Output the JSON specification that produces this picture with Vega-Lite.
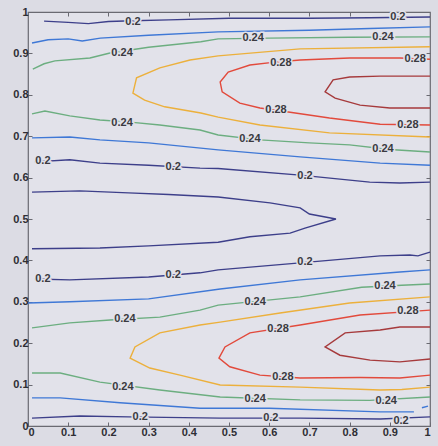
{
  "$schema": "https://vega.github.io/schema/vega-lite/v6.json",
  "autosize": {"type": "none"},
  "width": 402,
  "height": 414,
  "padding": {"left": 28, "top": 12, "right": 8, "bottom": 20},
  "background": "#dcdce4",
  "config": {
    "view": {"fill": "#e2e2ea", "stroke": "#6a6a72", "strokeWidth": 1.2},
    "axis": {
      "grid": false,
      "domain": false,
      "ticks": true,
      "tickSize": -4,
      "tickColor": "#6a6a72",
      "labelFont": "Liberation Sans",
      "labelFontWeight": "bold",
      "labelFontSize": 11,
      "labelColor": "#2e2e34",
      "format": "~g",
      "title": null
    }
  },
  "datasets": {
    "lines": [
      {"id": "A", "lvl": "0.2", "o": 1, "x": 0.04, "y": 0.978},
      {"id": "A", "lvl": "0.2", "o": 2, "x": 0.1, "y": 0.975},
      {"id": "A", "lvl": "0.2", "o": 3, "x": 0.15, "y": 0.972},
      {"id": "A", "lvl": "0.2", "o": 4, "x": 0.2, "y": 0.977},
      {"id": "A", "lvl": "0.2", "o": 5, "x": 0.26, "y": 0.979},
      {"id": "A", "lvl": "0.2", "o": 6, "x": 0.35, "y": 0.981},
      {"id": "A", "lvl": "0.2", "o": 7, "x": 0.5, "y": 0.985},
      {"id": "A", "lvl": "0.2", "o": 8, "x": 0.7, "y": 0.985},
      {"id": "A", "lvl": "0.2", "o": 9, "x": 0.85, "y": 0.986},
      {"id": "A", "lvl": "0.2", "o": 10, "x": 1.0, "y": 0.988},

      {"id": "B", "lvl": "0.22", "o": 1, "x": 0.01, "y": 0.925},
      {"id": "B", "lvl": "0.22", "o": 2, "x": 0.05, "y": 0.933},
      {"id": "B", "lvl": "0.22", "o": 3, "x": 0.1, "y": 0.935},
      {"id": "B", "lvl": "0.22", "o": 4, "x": 0.135, "y": 0.93},
      {"id": "B", "lvl": "0.22", "o": 5, "x": 0.18, "y": 0.937},
      {"id": "B", "lvl": "0.22", "o": 6, "x": 0.3, "y": 0.944},
      {"id": "B", "lvl": "0.22", "o": 7, "x": 0.473, "y": 0.952},
      {"id": "B", "lvl": "0.22", "o": 8, "x": 0.7, "y": 0.956},
      {"id": "B", "lvl": "0.22", "o": 9, "x": 0.85, "y": 0.96},
      {"id": "B", "lvl": "0.22", "o": 10, "x": 1.0, "y": 0.964},

      {"id": "C", "lvl": "0.24", "o": 1, "x": 0.012, "y": 0.862},
      {"id": "C", "lvl": "0.24", "o": 2, "x": 0.04, "y": 0.875},
      {"id": "C", "lvl": "0.24", "o": 3, "x": 0.067, "y": 0.882},
      {"id": "C", "lvl": "0.24", "o": 4, "x": 0.154, "y": 0.889},
      {"id": "C", "lvl": "0.24", "o": 5, "x": 0.204, "y": 0.901},
      {"id": "C", "lvl": "0.24", "o": 6, "x": 0.3, "y": 0.915},
      {"id": "C", "lvl": "0.24", "o": 7, "x": 0.43, "y": 0.928},
      {"id": "C", "lvl": "0.24", "o": 8, "x": 0.473, "y": 0.935},
      {"id": "C", "lvl": "0.24", "o": 9, "x": 0.6, "y": 0.937},
      {"id": "C", "lvl": "0.24", "o": 10, "x": 0.8, "y": 0.939},
      {"id": "C", "lvl": "0.24", "o": 11, "x": 1.0, "y": 0.94},

      {"id": "D", "lvl": "0.26", "o": 1, "x": 1.0, "y": 0.916},
      {"id": "D", "lvl": "0.26", "o": 2, "x": 0.677, "y": 0.911},
      {"id": "D", "lvl": "0.26", "o": 3, "x": 0.473, "y": 0.894},
      {"id": "D", "lvl": "0.26", "o": 4, "x": 0.403, "y": 0.884},
      {"id": "D", "lvl": "0.26", "o": 5, "x": 0.328, "y": 0.865},
      {"id": "D", "lvl": "0.26", "o": 6, "x": 0.27, "y": 0.841},
      {"id": "D", "lvl": "0.26", "o": 7, "x": 0.261, "y": 0.804},
      {"id": "D", "lvl": "0.26", "o": 8, "x": 0.29, "y": 0.787},
      {"id": "D", "lvl": "0.26", "o": 9, "x": 0.34, "y": 0.771},
      {"id": "D", "lvl": "0.26", "o": 10, "x": 0.43, "y": 0.756},
      {"id": "D", "lvl": "0.26", "o": 11, "x": 0.473, "y": 0.746},
      {"id": "D", "lvl": "0.26", "o": 12, "x": 0.577, "y": 0.727},
      {"id": "D", "lvl": "0.26", "o": 13, "x": 0.75, "y": 0.708},
      {"id": "D", "lvl": "0.26", "o": 14, "x": 1.0, "y": 0.698},

      {"id": "E", "lvl": "0.28", "o": 1, "x": 1.0, "y": 0.886},
      {"id": "E", "lvl": "0.28", "o": 2, "x": 0.925, "y": 0.889},
      {"id": "E", "lvl": "0.28", "o": 3, "x": 0.8, "y": 0.889},
      {"id": "E", "lvl": "0.28", "o": 4, "x": 0.677, "y": 0.884},
      {"id": "E", "lvl": "0.28", "o": 5, "x": 0.614, "y": 0.879},
      {"id": "E", "lvl": "0.28", "o": 6, "x": 0.552, "y": 0.872},
      {"id": "E", "lvl": "0.28", "o": 7, "x": 0.498, "y": 0.855},
      {"id": "E", "lvl": "0.28", "o": 8, "x": 0.478, "y": 0.831},
      {"id": "E", "lvl": "0.28", "o": 9, "x": 0.483, "y": 0.807},
      {"id": "E", "lvl": "0.28", "o": 10, "x": 0.527, "y": 0.78},
      {"id": "E", "lvl": "0.28", "o": 11, "x": 0.577, "y": 0.768},
      {"id": "E", "lvl": "0.28", "o": 12, "x": 0.652, "y": 0.758},
      {"id": "E", "lvl": "0.28", "o": 13, "x": 0.75, "y": 0.744},
      {"id": "E", "lvl": "0.28", "o": 14, "x": 0.876, "y": 0.729},
      {"id": "E", "lvl": "0.28", "o": 15, "x": 1.0, "y": 0.727},

      {"id": "F", "lvl": "0.3", "o": 1, "x": 1.0, "y": 0.845},
      {"id": "F", "lvl": "0.3", "o": 2, "x": 0.876, "y": 0.845},
      {"id": "F", "lvl": "0.3", "o": 3, "x": 0.8, "y": 0.843},
      {"id": "F", "lvl": "0.3", "o": 4, "x": 0.759, "y": 0.836},
      {"id": "F", "lvl": "0.3", "o": 5, "x": 0.739, "y": 0.807},
      {"id": "F", "lvl": "0.3", "o": 6, "x": 0.764, "y": 0.792},
      {"id": "F", "lvl": "0.3", "o": 7, "x": 0.826, "y": 0.775},
      {"id": "F", "lvl": "0.3", "o": 8, "x": 0.9, "y": 0.768},
      {"id": "F", "lvl": "0.3", "o": 9, "x": 1.0, "y": 0.768},

      {"id": "G", "lvl": "0.24", "o": 1, "x": 0.01, "y": 0.754},
      {"id": "G", "lvl": "0.24", "o": 2, "x": 0.042, "y": 0.761},
      {"id": "G", "lvl": "0.24", "o": 3, "x": 0.104, "y": 0.749},
      {"id": "G", "lvl": "0.24", "o": 4, "x": 0.179, "y": 0.739},
      {"id": "G", "lvl": "0.24", "o": 5, "x": 0.254, "y": 0.734},
      {"id": "G", "lvl": "0.24", "o": 6, "x": 0.328, "y": 0.727},
      {"id": "G", "lvl": "0.24", "o": 7, "x": 0.428, "y": 0.715},
      {"id": "G", "lvl": "0.24", "o": 8, "x": 0.473, "y": 0.703},
      {"id": "G", "lvl": "0.24", "o": 9, "x": 0.577, "y": 0.691},
      {"id": "G", "lvl": "0.24", "o": 10, "x": 0.7, "y": 0.684},
      {"id": "G", "lvl": "0.24", "o": 11, "x": 0.8, "y": 0.679},
      {"id": "G", "lvl": "0.24", "o": 12, "x": 0.9, "y": 0.668},
      {"id": "G", "lvl": "0.24", "o": 13, "x": 1.0, "y": 0.662},

      {"id": "H", "lvl": "0.22", "o": 1, "x": 0.01, "y": 0.696},
      {"id": "H", "lvl": "0.22", "o": 2, "x": 0.104, "y": 0.698},
      {"id": "H", "lvl": "0.22", "o": 3, "x": 0.179, "y": 0.691},
      {"id": "H", "lvl": "0.22", "o": 4, "x": 0.3, "y": 0.684},
      {"id": "H", "lvl": "0.22", "o": 5, "x": 0.473, "y": 0.667},
      {"id": "H", "lvl": "0.22", "o": 6, "x": 0.677, "y": 0.65},
      {"id": "H", "lvl": "0.22", "o": 7, "x": 0.876, "y": 0.635},
      {"id": "H", "lvl": "0.22", "o": 8, "x": 1.0, "y": 0.63},

      {"id": "I", "lvl": "0.2", "o": 1, "x": 0.017, "y": 0.638},
      {"id": "I", "lvl": "0.2", "o": 2, "x": 0.104, "y": 0.643},
      {"id": "I", "lvl": "0.2", "o": 3, "x": 0.179, "y": 0.635},
      {"id": "I", "lvl": "0.2", "o": 4, "x": 0.3, "y": 0.63},
      {"id": "I", "lvl": "0.2", "o": 5, "x": 0.428, "y": 0.623},
      {"id": "I", "lvl": "0.2", "o": 6, "x": 0.473, "y": 0.622},
      {"id": "I", "lvl": "0.2", "o": 7, "x": 0.677, "y": 0.606},
      {"id": "I", "lvl": "0.2", "o": 8, "x": 0.85, "y": 0.589},
      {"id": "I", "lvl": "0.2", "o": 9, "x": 0.925, "y": 0.587},
      {"id": "I", "lvl": "0.2", "o": 10, "x": 1.0, "y": 0.589},

      {"id": "J", "lvl": "0.2", "o": 1, "x": 0.01, "y": 0.565},
      {"id": "J", "lvl": "0.2", "o": 2, "x": 0.129, "y": 0.568},
      {"id": "J", "lvl": "0.2", "o": 3, "x": 0.25, "y": 0.563},
      {"id": "J", "lvl": "0.2", "o": 4, "x": 0.35, "y": 0.559},
      {"id": "J", "lvl": "0.2", "o": 5, "x": 0.473, "y": 0.553},
      {"id": "J", "lvl": "0.2", "o": 6, "x": 0.602, "y": 0.539},
      {"id": "J", "lvl": "0.2", "o": 7, "x": 0.677, "y": 0.527},
      {"id": "J", "lvl": "0.2", "o": 8, "x": 0.7, "y": 0.512},
      {"id": "J", "lvl": "0.2", "o": 9, "x": 0.766, "y": 0.5},
      {"id": "J", "lvl": "0.2", "o": 10, "x": 0.689, "y": 0.478},
      {"id": "J", "lvl": "0.2", "o": 11, "x": 0.652, "y": 0.466},
      {"id": "J", "lvl": "0.2", "o": 12, "x": 0.552, "y": 0.457},
      {"id": "J", "lvl": "0.2", "o": 13, "x": 0.473, "y": 0.444},
      {"id": "J", "lvl": "0.2", "o": 14, "x": 0.3, "y": 0.435},
      {"id": "J", "lvl": "0.2", "o": 15, "x": 0.179, "y": 0.43},
      {"id": "J", "lvl": "0.2", "o": 16, "x": 0.01, "y": 0.428},

      {"id": "K", "lvl": "0.2", "o": 1, "x": 0.017, "y": 0.355},
      {"id": "K", "lvl": "0.2", "o": 2, "x": 0.104, "y": 0.353},
      {"id": "K", "lvl": "0.2", "o": 3, "x": 0.3, "y": 0.36},
      {"id": "K", "lvl": "0.2", "o": 4, "x": 0.428, "y": 0.37},
      {"id": "K", "lvl": "0.2", "o": 5, "x": 0.473, "y": 0.377},
      {"id": "K", "lvl": "0.2", "o": 6, "x": 0.677, "y": 0.394},
      {"id": "K", "lvl": "0.2", "o": 7, "x": 0.876, "y": 0.411},
      {"id": "K", "lvl": "0.2", "o": 8, "x": 0.95, "y": 0.413},
      {"id": "K", "lvl": "0.2", "o": 9, "x": 0.97, "y": 0.411},
      {"id": "K", "lvl": "0.2", "o": 10, "x": 1.0, "y": 0.42},

      {"id": "L", "lvl": "0.22", "o": 1, "x": 0.0, "y": 0.297},
      {"id": "L", "lvl": "0.22", "o": 2, "x": 0.104, "y": 0.3},
      {"id": "L", "lvl": "0.22", "o": 3, "x": 0.3, "y": 0.307},
      {"id": "L", "lvl": "0.22", "o": 4, "x": 0.478, "y": 0.331},
      {"id": "L", "lvl": "0.22", "o": 5, "x": 0.677, "y": 0.353},
      {"id": "L", "lvl": "0.22", "o": 6, "x": 0.925, "y": 0.372},
      {"id": "L", "lvl": "0.22", "o": 7, "x": 1.0, "y": 0.377},

      {"id": "M", "lvl": "0.24", "o": 1, "x": 0.01, "y": 0.237},
      {"id": "M", "lvl": "0.24", "o": 2, "x": 0.104, "y": 0.249},
      {"id": "M", "lvl": "0.24", "o": 3, "x": 0.204, "y": 0.256},
      {"id": "M", "lvl": "0.24", "o": 4, "x": 0.328, "y": 0.263},
      {"id": "M", "lvl": "0.24", "o": 5, "x": 0.428, "y": 0.28},
      {"id": "M", "lvl": "0.24", "o": 6, "x": 0.473, "y": 0.292},
      {"id": "M", "lvl": "0.24", "o": 7, "x": 0.677, "y": 0.312},
      {"id": "M", "lvl": "0.24", "o": 8, "x": 0.83, "y": 0.335},
      {"id": "M", "lvl": "0.24", "o": 9, "x": 0.93, "y": 0.34},
      {"id": "M", "lvl": "0.24", "o": 10, "x": 1.0, "y": 0.343},

      {"id": "N", "lvl": "0.26", "o": 1, "x": 1.0, "y": 0.312},
      {"id": "N", "lvl": "0.26", "o": 2, "x": 0.8, "y": 0.297},
      {"id": "N", "lvl": "0.26", "o": 3, "x": 0.627, "y": 0.273},
      {"id": "N", "lvl": "0.26", "o": 4, "x": 0.478, "y": 0.251},
      {"id": "N", "lvl": "0.26", "o": 5, "x": 0.428, "y": 0.244},
      {"id": "N", "lvl": "0.26", "o": 6, "x": 0.328, "y": 0.225},
      {"id": "N", "lvl": "0.26", "o": 7, "x": 0.266, "y": 0.191},
      {"id": "N", "lvl": "0.26", "o": 8, "x": 0.254, "y": 0.164},
      {"id": "N", "lvl": "0.26", "o": 9, "x": 0.303, "y": 0.14},
      {"id": "N", "lvl": "0.26", "o": 10, "x": 0.378, "y": 0.123},
      {"id": "N", "lvl": "0.26", "o": 11, "x": 0.478, "y": 0.099},
      {"id": "N", "lvl": "0.26", "o": 12, "x": 0.677, "y": 0.094},
      {"id": "N", "lvl": "0.26", "o": 13, "x": 0.876, "y": 0.087},
      {"id": "N", "lvl": "0.26", "o": 14, "x": 0.93, "y": 0.088},
      {"id": "N", "lvl": "0.26", "o": 15, "x": 1.0, "y": 0.094},

      {"id": "O", "lvl": "0.28", "o": 1, "x": 1.0, "y": 0.28},
      {"id": "O", "lvl": "0.28", "o": 2, "x": 0.826, "y": 0.268},
      {"id": "O", "lvl": "0.28", "o": 3, "x": 0.677, "y": 0.244},
      {"id": "O", "lvl": "0.28", "o": 4, "x": 0.552, "y": 0.225},
      {"id": "O", "lvl": "0.28", "o": 5, "x": 0.49, "y": 0.191},
      {"id": "O", "lvl": "0.28", "o": 6, "x": 0.475, "y": 0.164},
      {"id": "O", "lvl": "0.28", "o": 7, "x": 0.502, "y": 0.143},
      {"id": "O", "lvl": "0.28", "o": 8, "x": 0.577, "y": 0.123},
      {"id": "O", "lvl": "0.28", "o": 9, "x": 0.677, "y": 0.116},
      {"id": "O", "lvl": "0.28", "o": 10, "x": 0.826, "y": 0.117},
      {"id": "O", "lvl": "0.28", "o": 11, "x": 0.925, "y": 0.116},
      {"id": "O", "lvl": "0.28", "o": 12, "x": 1.0, "y": 0.123},

      {"id": "P", "lvl": "0.3", "o": 1, "x": 1.0, "y": 0.239},
      {"id": "P", "lvl": "0.3", "o": 2, "x": 0.925, "y": 0.239},
      {"id": "P", "lvl": "0.3", "o": 3, "x": 0.876, "y": 0.232},
      {"id": "P", "lvl": "0.3", "o": 4, "x": 0.789, "y": 0.225},
      {"id": "P", "lvl": "0.3", "o": 5, "x": 0.739, "y": 0.191},
      {"id": "P", "lvl": "0.3", "o": 6, "x": 0.776, "y": 0.171},
      {"id": "P", "lvl": "0.3", "o": 7, "x": 0.851, "y": 0.159},
      {"id": "P", "lvl": "0.3", "o": 8, "x": 0.925, "y": 0.155},
      {"id": "P", "lvl": "0.3", "o": 9, "x": 1.0, "y": 0.162},

      {"id": "Q", "lvl": "0.24", "o": 1, "x": 0.01, "y": 0.128},
      {"id": "Q", "lvl": "0.24", "o": 2, "x": 0.08, "y": 0.128},
      {"id": "Q", "lvl": "0.24", "o": 3, "x": 0.179, "y": 0.106},
      {"id": "Q", "lvl": "0.24", "o": 4, "x": 0.328, "y": 0.087},
      {"id": "Q", "lvl": "0.24", "o": 5, "x": 0.478, "y": 0.07},
      {"id": "Q", "lvl": "0.24", "o": 6, "x": 0.677, "y": 0.063},
      {"id": "Q", "lvl": "0.24", "o": 7, "x": 0.85, "y": 0.062},
      {"id": "Q", "lvl": "0.24", "o": 8, "x": 1.0, "y": 0.07},

      {"id": "R", "lvl": "0.22", "o": 1, "x": 0.01, "y": 0.068},
      {"id": "R", "lvl": "0.22", "o": 2, "x": 0.08, "y": 0.068},
      {"id": "R", "lvl": "0.22", "o": 3, "x": 0.229, "y": 0.056},
      {"id": "R", "lvl": "0.22", "o": 4, "x": 0.428, "y": 0.043},
      {"id": "R", "lvl": "0.22", "o": 5, "x": 0.6, "y": 0.043},
      {"id": "R", "lvl": "0.22", "o": 6, "x": 0.876, "y": 0.034},
      {"id": "R", "lvl": "0.22", "o": 7, "x": 0.96, "y": 0.034},
      {"id": "R2", "lvl": "0.22", "o": 1, "x": 0.98, "y": 0.044},
      {"id": "R2", "lvl": "0.22", "o": 2, "x": 0.995, "y": 0.048},

      {"id": "S", "lvl": "0.2", "o": 1, "x": 0.01, "y": 0.019},
      {"id": "S", "lvl": "0.2", "o": 2, "x": 0.129, "y": 0.024},
      {"id": "S", "lvl": "0.2", "o": 3, "x": 0.25, "y": 0.022},
      {"id": "S", "lvl": "0.2", "o": 4, "x": 0.478, "y": 0.019},
      {"id": "S", "lvl": "0.2", "o": 5, "x": 0.677, "y": 0.019},
      {"id": "S", "lvl": "0.2", "o": 6, "x": 0.876, "y": 0.017},
      {"id": "S", "lvl": "0.2", "o": 7, "x": 1.0, "y": 0.022}
    ],
    "labels": [
      {"t": "0.2", "x": 0.261, "y": 0.977},
      {"t": "0.2", "x": 0.92, "y": 0.987},
      {"t": "0.24", "x": 0.234, "y": 0.9},
      {"t": "0.24", "x": 0.56, "y": 0.936},
      {"t": "0.24", "x": 0.883, "y": 0.94},
      {"t": "0.28", "x": 0.629, "y": 0.878},
      {"t": "0.28", "x": 0.963, "y": 0.886},
      {"t": "0.28", "x": 0.617, "y": 0.764},
      {"t": "0.28", "x": 0.945, "y": 0.727},
      {"t": "0.24", "x": 0.234, "y": 0.733},
      {"t": "0.24", "x": 0.552, "y": 0.694},
      {"t": "0.24", "x": 0.883, "y": 0.67},
      {"t": "0.2", "x": 0.037, "y": 0.639},
      {"t": "0.2", "x": 0.361, "y": 0.626},
      {"t": "0.2", "x": 0.689, "y": 0.604},
      {"t": "0.2", "x": 0.037, "y": 0.354},
      {"t": "0.2", "x": 0.361, "y": 0.365},
      {"t": "0.2", "x": 0.689, "y": 0.396},
      {"t": "0.24", "x": 0.241, "y": 0.258},
      {"t": "0.24", "x": 0.565, "y": 0.3},
      {"t": "0.24", "x": 0.888, "y": 0.339},
      {"t": "0.28", "x": 0.622, "y": 0.234},
      {"t": "0.28", "x": 0.945, "y": 0.278},
      {"t": "0.28", "x": 0.634, "y": 0.119},
      {"t": "0.24", "x": 0.236, "y": 0.094},
      {"t": "0.24", "x": 0.565, "y": 0.066},
      {"t": "0.24", "x": 0.891, "y": 0.06},
      {"t": "0.2", "x": 0.279, "y": 0.021},
      {"t": "0.2", "x": 0.604, "y": 0.019},
      {"t": "0.2", "x": 0.928, "y": 0.012}
    ]
  },
  "resolve": {"axis": {"x": "independent", "y": "independent"}},
  "layer": [
    {
      "data": {"name": "lines"},
      "mark": {"type": "line", "strokeWidth": 1.4, "interpolate": "linear"},
      "encoding": {
        "x": {"field": "x", "type": "quantitative", "scale": {"domain": [0, 1], "nice": false},
              "axis": {"values": [0, 0.1, 0.2, 0.3, 0.4, 0.5, 0.6, 0.7, 0.8, 0.9, 1], "labelPadding": 4, "format": "~g"}},
        "y": {"field": "y", "type": "quantitative", "scale": {"domain": [0, 1], "nice": false},
              "axis": {"values": [0, 0.1, 0.2, 0.3, 0.4, 0.5, 0.6, 0.7, 0.8, 0.9, 1], "labelPadding": 4, "format": "~g"}},
        "detail": {"field": "id"},
        "order": {"field": "o"},
        "color": {
          "field": "lvl", "type": "nominal", "legend": null,
          "scale": {"domain": ["0.2", "0.22", "0.24", "0.26", "0.28", "0.3"],
                    "range": ["#3d3f8a", "#3f78d6", "#6cae80", "#ecb03c", "#e24a3c", "#a63a3c"]}
        }
      }
    },
    {
      "data": {"name": "labels"},
      "mark": {"type": "text", "font": "Liberation Sans", "fontWeight": "bold", "fontSize": 11,
               "fill": "#e2e2ea", "stroke": "#e2e2ea", "strokeWidth": 3, "align": "center", "baseline": "middle"},
      "encoding": {
        "x": {"field": "x", "type": "quantitative", "scale": {"domain": [0, 1], "nice": false},
              "axis": {"orient": "top", "labels": false, "values": [0.1, 0.2, 0.3, 0.4, 0.5, 0.6, 0.7, 0.8, 0.9]}},
        "y": {"field": "y", "type": "quantitative", "scale": {"domain": [0, 1], "nice": false},
              "axis": {"orient": "right", "labels": false, "values": [0.1, 0.2, 0.3, 0.4, 0.5, 0.6, 0.7, 0.8, 0.9]}},
        "text": {"field": "t"}
      }
    },
    {
      "data": {"name": "labels"},
      "mark": {"type": "text", "font": "Liberation Sans", "fontWeight": "bold", "fontSize": 11,
               "fill": "#3a3a40", "align": "center", "baseline": "middle"},
      "encoding": {
        "x": {"field": "x", "type": "quantitative", "scale": {"domain": [0, 1], "nice": false}, "axis": null},
        "y": {"field": "y", "type": "quantitative", "scale": {"domain": [0, 1], "nice": false}, "axis": null},
        "text": {"field": "t"}
      }
    }
  ]
}
